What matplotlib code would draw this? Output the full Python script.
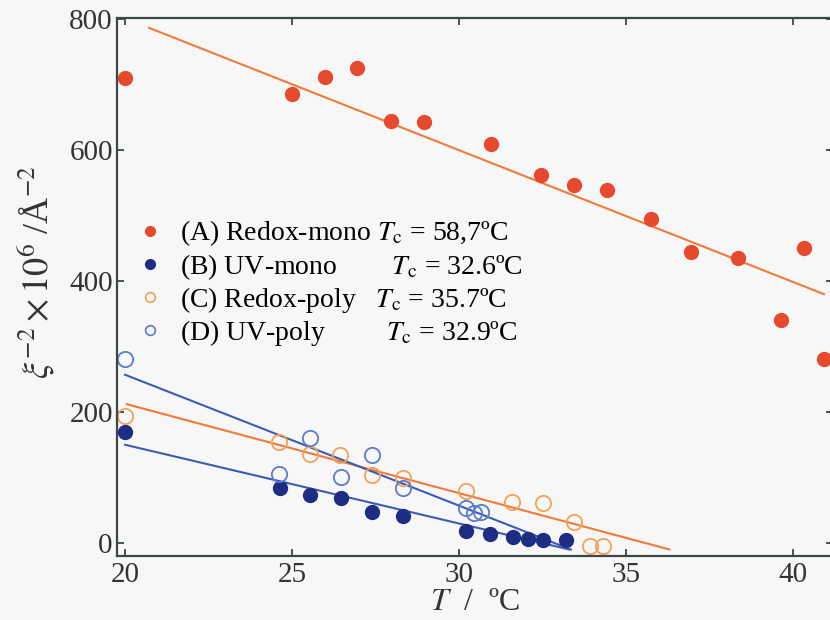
import matplotlib
matplotlib.use("Agg")
import matplotlib.pyplot as plt
from matplotlib.lines import Line2D

plt.rcParams['font.family'] = ['Liberation Serif', 'DejaVu Serif']
plt.rcParams['mathtext.fontset'] = 'stix'

# (A) Redox-mono, filled red
tA = [20.0, 25.0, 26.0, 26.95, 27.96, 28.95, 30.96, 32.45, 33.44, 34.43,
      35.75, 36.95, 38.35, 39.64, 40.33, 40.93]
yA = [710, 686, 712, 726, 645, 643, 610, 562, 547, 540,
      495, 444, 435, 340, 450, 281]
# (B) UV-mono, filled navy
tB = [20.0, 24.64, 25.54, 26.47, 27.4, 28.32, 30.21, 30.93, 31.62, 32.07, 32.51, 33.2]
yB = [169, 84, 73, 69, 47, 41, 18, 14, 9, 6, 5, 5]
# (C) Redox-poly, open orange
tC = [20.0, 24.6, 25.54, 26.44, 27.4, 28.33, 30.21, 31.59, 32.51, 33.44, 33.92, 34.31]
yC = [194, 154, 136, 134, 104, 99, 79, 63, 61, 32, -5, -5]
# (D) UV-poly, open blue
tD = [20.0, 24.6, 25.54, 26.47, 27.4, 28.32, 30.21, 30.45, 30.66]
yD = [281, 105, 160, 101, 134, 84, 53, 46, 47]

# linear fits (end points)
fitA_t = [20.72, 40.93]
fitA_y = [787, 380]
fitB_t = [20.0, 33.3]
fitB_y = [150, -10]
fitC_t = [20.05, 36.3]
fitC_y = [212, -10]
fitD_t = [20.0, 33.35]
fitD_y = [257, -10]

labels = ["(A) Redox-mono $T_{\\mathrm{c}}$ = 58,7ºC",
          "(B) UV-mono        $T_{\\mathrm{c}}$ = 32.6ºC",
          "(C) Redox-poly   $T_{\\mathrm{c}}$ = 35.7ºC",
          "(D) UV-poly         $T_{\\mathrm{c}}$ = 32.9ºC"]

red = '#e64a2e'
navy = '#1e2d84'
orange = '#f2a15a'
blue = '#5a7bd0'
line_orange = '#f07a3a'
line_blue = '#3b5bb5'
bg = '#f7f7f7'

fig = plt.figure(figsize=(8.3, 6.2), dpi=100, facecolor=bg)
ax = fig.add_axes([0.141, 0.1032, 0.8627, 0.8677], facecolor=bg)

ax.plot(fitA_t, fitA_y, color=line_orange, lw=1.5)
ax.plot(fitC_t, fitC_y, color=line_orange, lw=1.5)
ax.plot(fitB_t, fitB_y, color=line_blue, lw=1.5)
ax.plot(fitD_t, fitD_y, color=line_blue, lw=1.5)

ax.plot(tA, yA, 'o', color=red, ms=10, ls='none')
ax.plot(tB, yB, 'o', color=navy, ms=10, ls='none')
ax.plot(tC, yC, 'o', mfc='none', mec=orange, mew=1.3, ms=11, ls='none')
ax.plot(tD, yD, 'o', mfc='none', mec=blue, mew=1.3, ms=11, ls='none')

handles = [Line2D([], [], marker='o', ls='none', color=red, ms=7),
           Line2D([], [], marker='o', ls='none', color=navy, ms=7),
           Line2D([], [], marker='o', ls='none', mfc='none', mec=orange, ms=7, mew=1.2),
           Line2D([], [], marker='o', ls='none', mfc='none', mec=blue, ms=7, mew=1.2)]
ax.legend(handles, labels, loc='upper left', bbox_to_anchor=(0.03, 0.627),
          frameon=False, fontsize=20, handlelength=0.8, handletextpad=0.7,
          labelspacing=0.12, borderpad=0, borderaxespad=0)

ax.set_xlim(19.76, 41.2)
ax.set_ylim(-20, 802)
ax.set_xticks([20, 25, 30, 35, 40])
ax.set_yticks([0, 200, 400, 600, 800])

spine_c = '#3c4646'
for s in ax.spines.values():
    s.set_color(spine_c)
    s.set_linewidth(1.6)
ax.tick_params(direction='in', length=5, width=1.3, color=spine_c,
               top=True, right=True, labelsize=21, labelcolor='#333333', pad=3)
ax.tick_params(axis='x', pad=4)

ax.set_xlabel("$T$  /  ºC", fontsize=23, color='#333333', labelpad=0)
ax.set_ylabel("$\\xi^{-2}\\times10^{6}$ /Å$^{-2}$", fontsize=26, color='#333333')
ax.yaxis.set_label_coords(-0.085, 0.528)

fig.savefig("out.png", dpi=100, facecolor=bg)
